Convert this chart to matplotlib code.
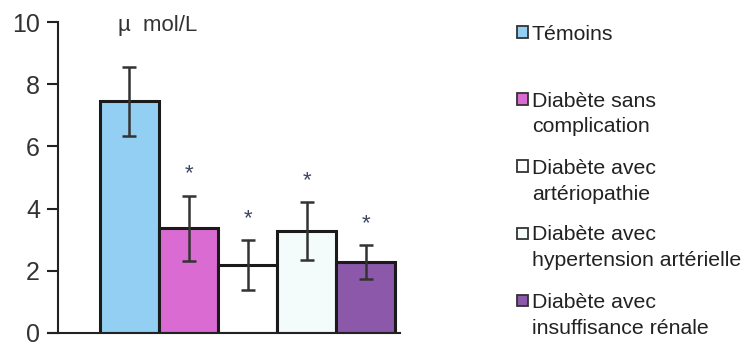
import numpy as np
import matplotlib.pyplot as plt
from matplotlib.patches import Rectangle

plt.rcParams['font.family'] = ['Liberation Sans', 'DejaVu Sans']

# mean concentration (µmol/L) and error per group
groups = ["Témoins",
          "Diabète sans\ncomplication",
          "Diabète avec\nartériopathie",
          "Diabète avec\nhypertension artérielle",
          "Diabète avec\ninsuffisance rénale"]
means = [7.45, 3.37, 2.18, 3.28, 2.28]
errors = [1.1, 1.05, 0.8, 0.92, 0.55]
significant = [False, True, True, True, True]
colors = ["#93cff2", "#d96bd3", "#ffffff", "#f3fbfb", "#8c58aa"]

W, H = 749, 348
fig = plt.figure(figsize=(W / 100, H / 100), dpi=100)
ax = fig.add_axes([58 / W, 1 - 333 / H, (400 - 58) / W, (333 - 22) / H])

x = np.arange(len(means))
ax.bar(x, means, width=1.0, color=colors, edgecolor="#1a1a1a", linewidth=2.2, zorder=2)
ax.errorbar(x, means, yerr=errors, fmt="none", ecolor="#333333",
            elinewidth=1.8, capsize=5, capthick=1.8, zorder=3)

# significance stars above the error bars
for xi, m, e, s in zip(x, means, errors, significant):
    if s:
        ax.text(xi, m + e + 0.7, "*", ha="center", va="center",
                fontsize=16, color="#3c4660", zorder=4)

ax.set_xlim(-1.21, 4.58)
ax.set_ylim(0, 10)
ax.set_yticks([0, 2, 4, 6, 8, 10])
ax.set_xticks([])
ax.tick_params(axis="y", direction="out", length=8, width=1.5, color="#222222",
               labelsize=18, labelcolor="#333333", pad=5)
for side in ("top", "right"):
    ax.spines[side].set_visible(False)
for side in ("left", "bottom"):
    ax.spines[side].set_linewidth(1.5)
    ax.spines[side].set_color("#222222")
ax.spines["bottom"].set_bounds(-1.38, 4.58)

ax.text(0.292, 0.99, "µ  mol/L", transform=ax.transAxes, ha="center", va="center",
        fontsize=16, color="#333333")

# legend drawn by hand so markers line up with the first text line
for i, (label, c) in enumerate(zip(groups, colors)):
    yc = 32 + 67 * i
    fig.add_artist(Rectangle((517 / W, 1 - (yc + 5.5) / H), 11 / W, 11 / H,
                             transform=fig.transFigure, facecolor=c,
                             edgecolor="#333333", linewidth=1.3))
    for j, line in enumerate(label.split("\n")):
        fig.text(532 / W, 1 - (yc + 26 * j) / H, line, ha="left",
                 va="center_baseline", fontsize=15.3, color="#222222")

fig.savefig("out.png", dpi=100)
